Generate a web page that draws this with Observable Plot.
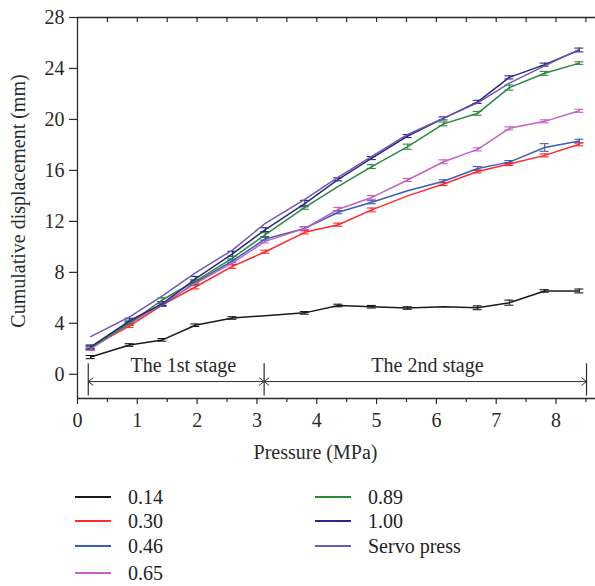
<!DOCTYPE html>
<html><head><meta charset="utf-8">
<script src="https://cdn.jsdelivr.net/npm/d3@7"></script>
<script src="https://cdn.jsdelivr.net/npm/@observablehq/plot@0.6"></script>
<style>
body{margin:0;background:#fff;}
#wrap{width:595px;position:relative;font-family:"Liberation Serif",serif;}
.legend{position:relative;width:595px;height:116px;font-size:20px;color:#222;font-family:"Liberation Serif",serif;}
.item{position:absolute;display:flex;align-items:center;height:24px;line-height:24px;}
.item .sw{display:inline-block;width:36px;height:2px;margin-right:17px;}
</style></head><body><div id="wrap"></div>
<script>
// ---- data ----
const pressure = [0.22, 0.87, 1.42, 1.97, 2.59, 3.14, 3.80, 4.36, 4.92, 5.52, 6.12, 6.69, 7.22, 7.81, 8.39];
const seriesNames = ["0.14", "0.30", "0.46", "0.65", "0.89", "1.00", "Servo press"];
const seriesColors = ["#1a1a1a", "#ff2a2a", "#3f5db4", "#c462c4", "#2a8a3c", "#2c2a7e", "#7058b8"];
const s014 = [1.35, 2.30, 2.70, 3.85, 4.42, 4.60, 4.82, 5.40, 5.30, 5.20, 5.30, 5.22, 5.62, 6.54, 6.54];
const s030 = [2.10, 3.80, 5.45, 6.85, 8.47, 9.62, 11.14, 11.74, 12.90, 14.00, 14.93, 15.92, 16.50, 17.18, 18.05];
const s046 = [2.05, 4.10, 5.45, 7.20, 8.90, 10.62, 11.45, 12.72, 13.50, 14.40, 15.15, 16.15, 16.65, 17.80, 18.30];
const s065 = [2.00, 3.95, 5.55, 7.12, 8.75, 10.43, 11.45, 12.95, 13.88, 15.25, 16.68, 17.65, 19.30, 19.85, 20.68];
const s089 = [2.10, 4.00, 5.85, 7.30, 9.12, 10.96, 13.10, 14.75, 16.30, 17.86, 19.65, 20.48, 22.50, 23.62, 24.42];
const s100 = [2.15, 4.20, 5.55, 7.48, 9.45, 11.35, 13.40, 15.30, 16.97, 18.70, 20.08, 21.38, 23.30, 24.30, 25.45];
const sServo = [2.95, 4.50, 6.15, 7.95, 9.75, 11.85, 13.72, 15.48, 17.10, 18.82, 20.10, 21.30, 22.85, 24.20, 25.50];
// error-bar half heights (null = no bar)
const e014 = [0.12, 0.1, 0.1, 0.1, 0.1, null, 0.1, 0.1, 0.1, 0.1, null, 0.15, 0.2, 0.1, 0.15];
const e030 = [0.12, 0.12, 0.12, 0.15, 0.15, 0.12, 0.12, 0.12, 0.15, null, 0.12, 0.12, 0.12, 0.12, 0.12];
const e046 = [0.15, 0.15, 0.12, 0.15, 0.15, 0.12, 0.12, 0.12, 0.12, null, 0.12, 0.15, 0.12, 0.3, 0.15];
const e065 = [0.12, 0.12, 0.12, 0.15, 0.15, 0.12, 0.12, 0.15, 0.15, 0.12, 0.15, 0.12, 0.12, 0.12, 0.12];
const e089 = [0.12, 0.15, 0.15, 0.15, 0.15, 0.15, 0.15, null, 0.15, 0.2, 0.15, 0.15, 0.2, 0.15, 0.1];
const e100 = [0.15, 0.2, 0.15, 0.2, 0.2, 0.15, 0.25, 0.12, 0.12, 0.12, 0.12, 0.12, 0.12, 0.12, 0.15];
const eServo = pressure.map(() => null);
const xTicks = [0, 1, 2, 3, 4, 5, 6, 7, 8];
const xMinorTicks = [0.5, 1.5, 2.5, 3.5, 4.5, 5.5, 6.5, 7.5, 8.5];
const xAllHalf = [0.5, 1, 1.5, 2, 2.5, 3, 3.5, 4, 4.5, 5, 5.5, 6, 6.5, 7, 7.5, 8, 8.5];
const yTicks = [0, 4, 8, 12, 16, 20, 24, 28];
const stageBounds = [0.18, 3.12, 8.51];
const stageLabels = ["The 1st stage", "The 2nd stage"];
const stageLabelX = [1.77, 5.85];

const allY = [s014, s030, s046, s065, s089, s100, sServo];
const allE = [e014, e030, e046, e065, e089, e100, eServo];
const rows = [];
seriesNames.forEach((name, i) => {
  pressure.forEach((x, j) => rows.push({series: name, x, y: allY[i][j], e: allE[i][j]}));
});
const errRows = rows.filter(d => d.e != null);
const capHalf = 0.075;
const arrowY = -0.57;
const arrows = [];
for (let k = 0; k < 2; k++) {
  const m = (stageBounds[k] + stageBounds[k + 1]) / 2;
  arrows.push({x1: m, x2: stageBounds[k]}, {x1: m, x2: stageBounds[k + 1]});
}

const FONT = '"Liberation Serif", serif';
const axisColor = "#2a2a2a";
const chart = Plot.plot({
  width: 595, height: 470,
  marginLeft: 77, marginRight: 0, marginTop: 17, marginBottom: 72,
  style: {fontFamily: FONT, fontSize: "20px", color: "#2a2a2a", background: "white"},
  x: {domain: [0, 8.66], label: null},
  y: {domain: [-1.9, 28], label: null},
  color: {domain: seriesNames, range: seriesColors},
  marks: [
    Plot.ruleX([0], {stroke: axisColor, strokeWidth: 1.3}),
    Plot.ruleY([28], {stroke: axisColor, strokeWidth: 1.3}),
    Plot.ruleY([-1.9], {stroke: axisColor, strokeWidth: 1.3}),
    Plot.axisY(yTicks, {tickSize: 8, tickPadding: 5, stroke: axisColor, strokeWidth: 1.2, tickFormat: "d", label: null, fontFamily: FONT, fontSize: 20}),
    Plot.axisX(xTicks, {tickSize: 6, tickPadding: 8, stroke: axisColor, strokeWidth: 1.2, tickFormat: "d", label: null, fontFamily: FONT, fontSize: 20}),
    Plot.axisX(xMinorTicks, {tickSize: 4, text: null, stroke: axisColor, strokeWidth: 1.2, label: null}),
    Plot.axisX(xAllHalf, {anchor: "top", tickSize: 4, dy: 4, text: null, stroke: axisColor, strokeWidth: 1.2, label: null}),
    Plot.text(["Cumulative displacement (mm)"], {frameAnchor: "left", textAnchor: "middle", rotate: -90, dx: -59, dy: -7, fontSize: 20, fontFamily: FONT, fill: "#2a2a2a", ariaLabel: "ylabel"}),
    Plot.text(["Pressure (MPa)"], {frameAnchor: "bottom", lineAnchor: "middle", dx: -21, dy: 54, fontSize: 20, fontFamily: FONT, fill: "#2a2a2a"}),
    // stage annotations
    Plot.ruleX(stageBounds, {y1: -1.7, y2: 0.82, stroke: axisColor, strokeWidth: 1.2}),
    Plot.arrow(arrows, {x1: "x1", x2: "x2", y1: arrowY, y2: arrowY, stroke: "#333", strokeWidth: 1, headLength: 9, headAngle: 75}),
    Plot.text(stageLabels, {x: (d, i) => stageLabelX[i], y: 0.7, fontSize: 20, fontFamily: FONT, fill: "#2a2a2a"}),
    // error bars
    Plot.ruleX(errRows, {x: "x", y1: d => d.y - d.e, y2: d => d.y + d.e, stroke: "series", strokeWidth: 1.1}),
    Plot.ruleY(errRows, {y: d => d.y - d.e, x1: d => d.x - capHalf, x2: d => d.x + capHalf, stroke: "series", strokeWidth: 1.1}),
    Plot.ruleY(errRows, {y: d => d.y + d.e, x1: d => d.x - capHalf, x2: d => d.x + capHalf, stroke: "series", strokeWidth: 1.1}),
    // lines
    Plot.line(rows, {x: "x", y: "y", z: "series", stroke: "series", strokeWidth: 1.5})
  ]
});
d3.select(chart).selectAll('g[aria-label="ylabel"] text').style("letter-spacing", "2.6px");
const wrap = document.getElementById("wrap");
wrap.appendChild(chart);

// legend
const legend = document.createElement("div");
legend.className = "legend";
const pos = [[75, 27], [75, 51], [75, 76], [75, 103], [315, 27], [315, 51], [315, 76]];
seriesNames.forEach((name, i) => {
  const it = document.createElement("div");
  it.className = "item";
  it.style.left = pos[i][0] + "px";
  it.style.top = (pos[i][1] - 12) + "px";
  const sw = document.createElement("span");
  sw.className = "sw";
  sw.style.background = seriesColors[i];
  const t = document.createElement("span");
  t.textContent = name;
  it.appendChild(sw); it.appendChild(t);
  legend.appendChild(it);
});
wrap.appendChild(legend);
</script></body></html>
